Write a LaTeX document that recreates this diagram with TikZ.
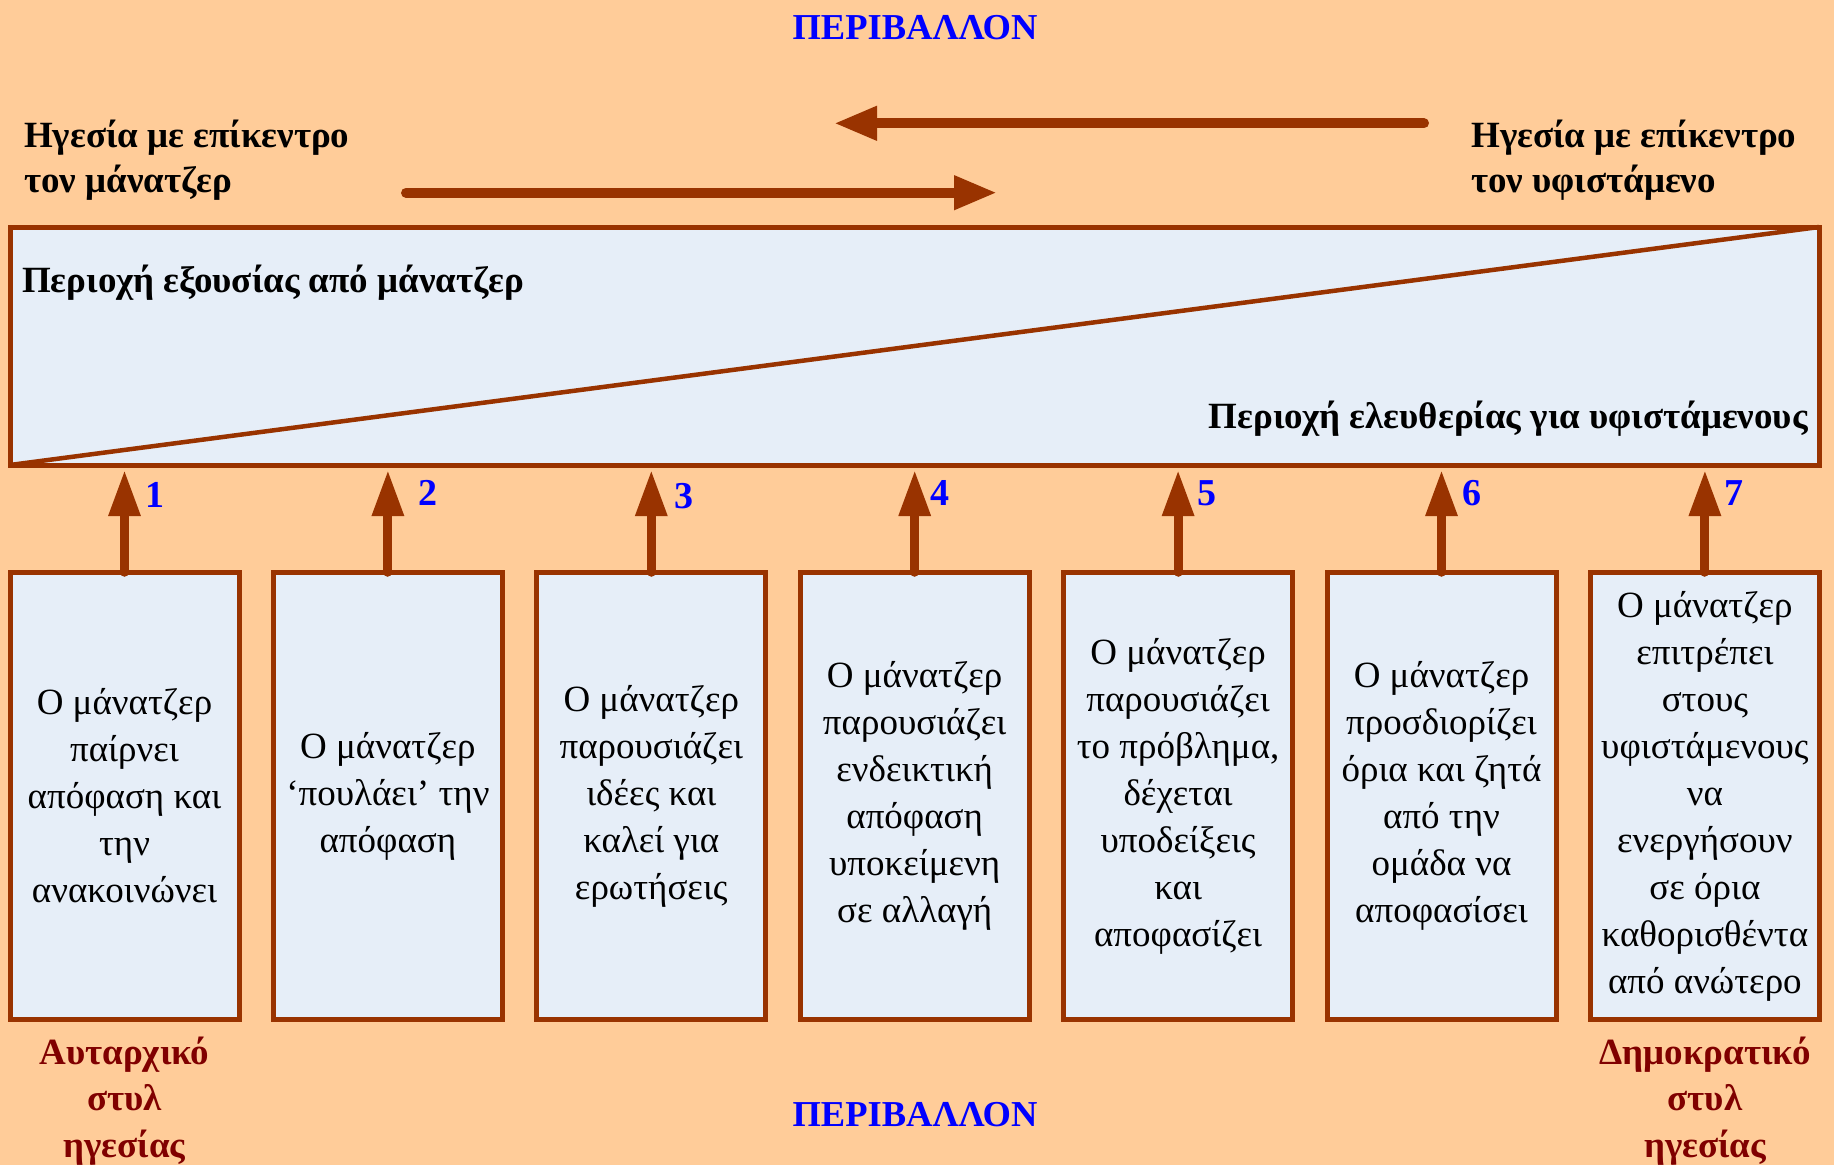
\documentclass[tikz,border=0pt]{standalone}
\usepackage{fontspec}
\setmainfont{Liberation Serif}
\usetikzlibrary{arrows.meta}
\definecolor{bgpeach}{HTML}{FFCC99}
\definecolor{panel}{HTML}{E6EEF8}
\definecolor{rust}{HTML}{993300}
\definecolor{numblue}{HTML}{0000FF}
\definecolor{stylered}{HTML}{800000}

\begin{document}
\begin{tikzpicture}[x=1pt,y=-1pt,
  panelbox/.style={draw=rust, fill=panel, line width=5pt, rectangle,
    outer sep=0pt, inner sep=0pt},
  stagebox/.style={panelbox, minimum width=229pt, minimum height=447.5pt,
    align=center, font=\fontsize{37}{47}\selectfont},
  heading/.style={inner sep=0pt, align=left, font=\bfseries\fontsize{37}{45}\selectfont},
  envlabel/.style={inner sep=0pt, text=numblue, font=\bfseries\fontsize{36.5}{40}\selectfont},
  stagenum/.style={inner sep=0pt, text=numblue, font=\bfseries\fontsize{38}{40}\selectfont},
  stylelabel/.style={inner sep=0pt, align=center, text=stylered,
    font=\bfseries\fontsize{37}{46.5}\selectfont},
  shiftarrow/.style={draw=rust, line width=10pt, line cap=round,
    -{Triangle[length=43pt,width=32pt]}},
  uparrow/.style={draw=rust, line width=9pt, line cap=round,
    -{Triangle[length=46pt,width=30pt]}, shorten >=5pt}
]
% canvas
\fill[bgpeach] (0,0) rectangle (1834,1165);
\useasboundingbox (0,0) rectangle (1834,1165);

% environment labels
\node[envlabel, anchor=base] (envtop) at (915,39) {ΠΕΡΙΒΑΛΛΟΝ};
\node[envlabel, anchor=base] (envbottom) at (915,1126) {ΠΕΡΙΒΑΛΛΟΝ};

% leadership focus headings (base = last line)
\node[heading, anchor=base west] (mgrfocus) at (24,192)
  {Ηγεσία με επίκεντρο\\τον μάνατζερ};
\node[heading, anchor=base west] (subfocus) at (1471,192)
  {Ηγεσία με επίκεντρο\\τον υφιστάμενο};

% direction arrows
\coordinate (lefttail) at (1424,123.3);
\coordinate (lefttip) at (834,123.3);
\coordinate (righttail) at (406,192.7);
\coordinate (righttip) at (997,192.7);
\draw[shiftarrow] (lefttail) -- (lefttip);
\draw[shiftarrow] (righttail) -- (righttip);

% authority / freedom area
\node[panelbox, minimum width=1809pt, minimum height=238pt] (area) at (914.5,346) {};
\draw[rust, line width=4.5pt] (area.south west) -- (area.north east);
\node[heading, anchor=base west] (authority) at (22,292) {Περιοχή εξουσίας από μάνατζερ};
\node[heading, anchor=base east] (freedom) at (1808,428) {Περιοχή ελευθερίας για υφιστάμενους};

% the seven behaviour boxes
\node[stagebox] (b1) at (124.5,796)
  {Ο μάνατζερ\\παίρνει\\απόφαση και\\την\\ανακοινώνει};
\node[stagebox] (b2) at (387.9,796)
  {Ο μάνατζερ\\‘πουλάει’ την\\απόφαση};
\node[stagebox] (b3) at (651.3,796)
  {Ο μάνατζερ\\παρουσιάζει\\ιδέες και\\καλεί για\\ερωτήσεις};
\node[stagebox] (b4) at (914.7,796)
  {Ο μάνατζερ\\παρουσιάζει\\ενδεικτική\\απόφαση\\υποκείμενη\\σε αλλαγή};
\node[stagebox] (b5) at (1178.1,796)
  {Ο μάνατζερ\\παρουσιάζει\\το πρόβλημα,\\δέχεται\\υποδείξεις\\και\\αποφασίζει};
\node[stagebox] (b6) at (1441.5,796)
  {Ο μάνατζερ\\προσδιορίζει\\όρια και ζητά\\από την\\ομάδα να\\αποφασίσει};
\node[stagebox] (b7) at (1704.9,796)
  {Ο μάνατζερ\\επιτρέπει\\στους\\υφιστάμενους\\να\\ενεργήσουν\\σε όρια\\καθορισθέντα\\από ανώτερο};

% arrows from each box up to the area
\foreach \b in {b1,b2,b3,b4,b5,b6,b7}
  \draw[uparrow] (\b.north) -- (\b.north |- area.south);

% stage numbers
\node[stagenum, anchor=base] (n1) at ([xshift=30pt]b1.north |- 0,507) {1};
\node[stagenum, anchor=base] (n2) at ([xshift=40pt]b2.north |- 0,505) {2};
\node[stagenum, anchor=base] (n3) at ([xshift=33pt]b3.north |- 0,508) {3};
\node[stagenum, anchor=base] (n4) at ([xshift=25pt]b4.north |- 0,505) {4};
\node[stagenum, anchor=base] (n5) at ([xshift=29pt]b5.north |- 0,505) {5};
\node[stagenum, anchor=base] (n6) at ([xshift=30pt]b6.north |- 0,505) {6};
\node[stagenum, anchor=base] (n7) at ([xshift=29pt]b7.north |- 0,505) {7};

% leadership style labels (base = last line)
\node[stylelabel, anchor=base] (autocratic) at (124.5,1157) {Αυταρχικό\\στυλ\\ηγεσίας};
\node[stylelabel, anchor=base] (democratic) at (1705,1157) {Δημοκρατικό\\στυλ\\ηγεσίας};
\end{tikzpicture}
\end{document}
